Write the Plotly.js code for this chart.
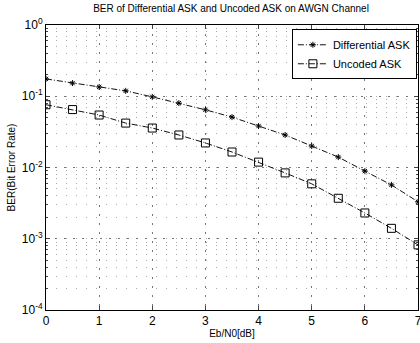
<!DOCTYPE html>
<html><head><meta charset="utf-8">
<script src="https://cdn.plot.ly/plotly-3.0.1.min.js"></script>
<style>html,body{margin:0;padding:0;background:#fff}#c{width:420px;height:343px}</style>
</head><body><div id="c"></div>
<script>
var ebn0 = [0,0.5,1,1.5,2,2.5,3,3.5,4,4.5,5,5.5,6,6.5,7];
var berDiff = [0.175,0.153,0.135,0.119,0.098,0.080,0.0645,0.051,0.0382,0.0286,0.020,0.014,0.0089,0.0057,0.0033];
var berUncoded = [0.076,0.065,0.0545,0.042,0.0358,0.0286,0.0221,0.0165,0.0119,0.0084,0.0059,0.0037,0.0023,0.0014,0.00082];
var yTickVals = [1,0.1,0.01,0.001,0.0001];
var yTickText = ['10<sup>0</sup>','10<sup>-1</sup>','10<sup>-2</sup>','10<sup>-3</sup>','10<sup>-4</sup>'];
var xTickVals = [0,1,2,3,4,5,6,7];

var traces = [
 {x: ebn0, y: berDiff, name: 'Differential ASK', mode: 'lines+markers', type: 'scatter',
  line: {color: '#111', width: 1, dash: '6px,2px,1px,2px'},
  marker: {symbol: 'asterisk-open', size: 5, color: '#000', line: {color: '#000', width: 1}}},
 {x: ebn0, y: berUncoded, name: 'Uncoded ASK', mode: 'lines+markers', type: 'scatter',
  line: {color: '#111', width: 1, dash: '6px,2px,1px,2px'},
  marker: {symbol: 'square-open', size: 8, color: '#000', line: {color: '#000', width: 1}}}
];
var layout = {
 width: 420, height: 343,
 margin: {l: 46, r: 2, t: 25, b: 33},
 paper_bgcolor: '#fff', plot_bgcolor: '#fff',
 font: {family: 'Liberation Sans, Arial, sans-serif', color: '#000', size: 11},
 title: {text: 'BER of Differential ASK and Uncoded ASK on AWGN Channel', font: {size: 10}, x: 0.55, xanchor: 'center', y: 0.985, yanchor: 'top'},
 xaxis: {range: [0, 7], tickvals: xTickVals, ticks: 'inside', ticklen: 4, mirror: 'ticks', showline: true, linecolor: '#000', linewidth: 1,
  showgrid: true, gridcolor: '#777', griddash: '2px,7px', gridwidth: 1, zeroline: false, ticklabeloverflow: 'allow',
  title: {text: 'Eb/N0[dB]', font: {size: 10}, standoff: 2}, tickfont: {size: 12}},
 yaxis: {type: 'log', range: [-4, 0], tickvals: yTickVals, ticktext: yTickText, ticks: 'inside', ticklen: 4, mirror: 'ticks', showline: true, linecolor: '#000', linewidth: 1,
  showgrid: true, gridcolor: '#777', griddash: '2px,7px', gridwidth: 1, zeroline: false,
  minor: {ticks: 'inside', ticklen: 2, showgrid: true, gridcolor: '#aaa', griddash: '1px,9px', dtick: 'D1'},
  title: {text: 'BER(Bit Error Rate)', font: {size: 10}, standoff: 4}, tickfont: {size: 12}},
 legend: {x: 0.997, y: 0.985, xanchor: 'right', yanchor: 'top', bgcolor: '#fff', bordercolor: '#000', borderwidth: 1, font: {size: 11}, tracegroupgap: 0, itemwidth: 30},
 showlegend: true
};
Plotly.newPlot('c', traces, layout, {displayModeBar: false, staticPlot: true});
</script></body></html>
